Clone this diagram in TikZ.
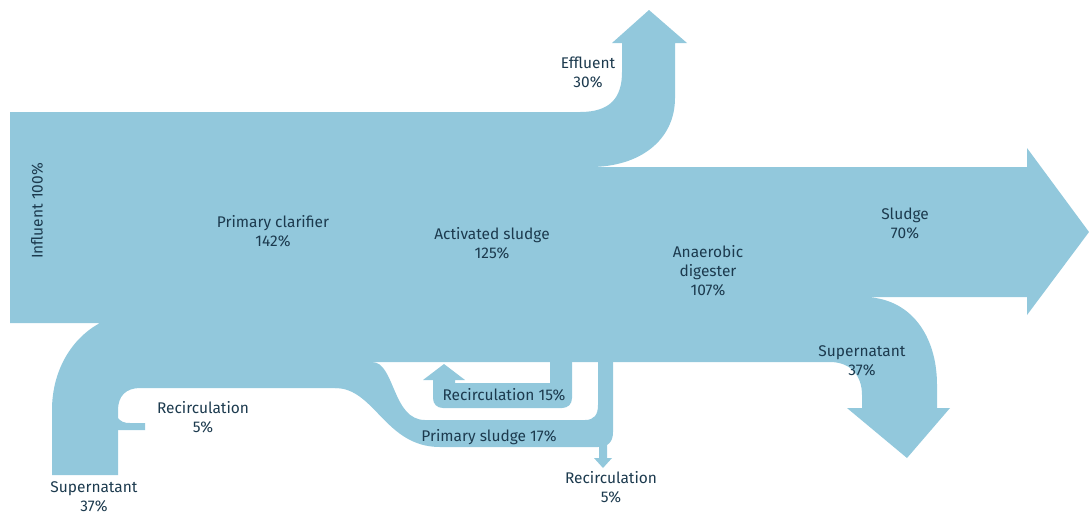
\documentclass[tikz,border=0pt]{standalone}
\usepackage{fontspec}
\setmainfont{Fira Sans}

\definecolor{flowblue}{HTML}{92C8DC}
\definecolor{labeltext}{HTML}{1C3A4E}

\begin{document}
\begin{tikzpicture}[x=0.025cm, y=-0.025cm,
  pipe/.style={fill=flowblue, draw=none},
  lbl/.style={text=labeltext, align=center, inner sep=0pt,
    font=\fontsize{11}{13.5}\selectfont}]
\useasboundingbox (0,0) rectangle (1089,516);

% main flow: influent, clarifier, effluent, sludge, supernatant
\fill[pipe] (10,112) -- (580,112) .. controls (610,112) and (622,98) .. (622,72)
  -- (622,43) -- (612,43) -- (649,10) -- (687,43) -- (675,43) -- (675,98)
  .. controls (675,140) and (640,167) .. (590,167) -- (1027,167) -- (1027,148)
  -- (1089,232) -- (1027,315) -- (1027,297) -- (863,297)
  .. controls (910,297) and (937,335) .. (937,385) -- (937,408) -- (950,408)
  -- (907,458) -- (847,408) -- (862,408) -- (862,395)
  .. controls (862,375) and (850,362) .. (830,362) -- (372,362) -- (372,388)
  -- (140,388) .. controls (126,388) and (118,396) .. (118,410) -- (118,475)
  -- (52,475) -- (52,410) .. controls (52,370) and (72,338) .. (100,323)
  -- (10,323) -- cycle;

% primary sludge
\fill[pipe] (335,370) -- (372,362) .. controls (395,362) and (392,420) .. (425,420)
  -- (585,420) .. controls (594,420) and (598,415) .. (598,405) -- (598,360)
  -- (613,360) -- (613,432) .. controls (613,442) and (608,447) .. (598,447)
  -- (440,447) .. controls (385,447) and (375,388) .. (335,388) -- cycle;

% recirculation loops
\fill[pipe] (550,360) -- (572,360) -- (572,398) .. controls (572,404) and (568,408) .. (562,408)
  -- (443,408) .. controls (437,408) and (433,404) .. (433,398) -- (433,380)
  -- (423,380) -- (444,364) -- (465,380) -- (455,380) -- (455,383) -- (550,383) -- cycle;
\fill[pipe] (599,440) -- (607,440) -- (607,458) -- (612,458) -- (603,468)
  -- (594,458) -- (599,458) -- cycle;
\fill[pipe] (116,416) .. controls (121,422) and (124,423) .. (130,423) -- (145,423)
  -- (145,430) -- (116,430) -- cycle;

\node[lbl, rotate=90] (influent) at (37,211) {Influent 100\%};
\node[lbl] (clarifier) at (273,231) {Primary clarifier\\142\%};
\node[lbl] (activated) at (492,243) {Activated sludge\\125\%};
\node[lbl] (digester) at (708,271) {Anaerobic\\digester\\107\%};
\node[lbl] (sludge) at (905,223) {Sludge\\70\%};
\node[lbl] (effluent) at (588,72) {Effluent\\30\%};
\node[lbl] (supright) at (862,361) {Supernatant\\37\%};
\node[lbl] (recfifteen) at (504,395) {Recirculation 15\%};
\node[lbl] (primsludge) at (489,437) {Primary sludge 17\%};
\node[lbl] (recleft) at (203,417) {Recirculation\\5\%};
\node[lbl] (supleft) at (94,497) {Supernatant\\37\%};
\node[lbl] (recbottom) at (611,487) {Recirculation\\5\%};
\end{tikzpicture}
\end{document}
